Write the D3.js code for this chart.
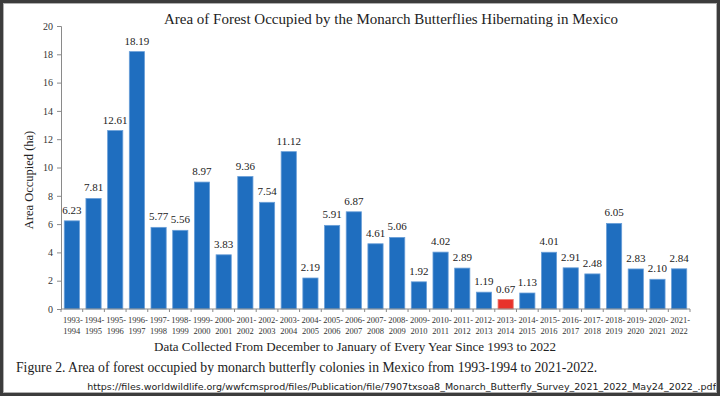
<!DOCTYPE html>
<html lang="en">
<head>
    <meta charset="utf-8" />
    <title>Monarch Butterflies</title>
    <script src="https://cdn.jsdelivr.net/npm/d3@7"></script>
    <style>
        body { margin: 0; background: #fff; }
        svg { display: block; }
    </style>
</head>
<body>
    <script>
        // seasons (two-line tick labels) and area occupied in hectares
        var startYears = ["1993", "1994", "1995", "1996", "1997", "1998", "1999", "2000", "2001", "2002",
            "2003", "2004", "2005", "2006", "2007", "2008", "2009", "2010", "2011", "2012",
            "2013", "2014", "2015", "2016", "2017", "2018", "2019", "2020", "2021"];
        var endYears = ["1994", "1995", "1996", "1997", "1998", "1999", "2000", "2001", "2002", "2003",
            "2004", "2005", "2006", "2007", "2008", "2009", "2010", "2011", "2012", "2013",
            "2014", "2015", "2016", "2017", "2018", "2019", "2020", "2021", "2022"];
        var areas = [6.23, 7.81, 12.61, 18.19, 5.77, 5.56, 8.97, 3.83, 9.36, 7.54,
            11.12, 2.19, 5.91, 6.87, 4.61, 5.06, 1.92, 4.02, 2.89, 1.19,
            0.67, 1.13, 4.01, 2.91, 2.48, 6.05, 2.83, 2.10, 2.84];
        var yTicks = [0, 2, 4, 6, 8, 10, 12, 14, 16, 18, 20];
        var lowestSeason = "2013";

        var w = 720;
        var h = 396;
        var serif = "'Liberation Serif', 'Times New Roman', serif";

        var svg = d3.select("body").append("svg")
            .attr("width", w)
            .attr("height", h);

        svg.append("rect")
            .attr("width", w)
            .attr("height", h)
            .attr("fill", "#fff");

        var plotLeft = 61, plotRight = 690, plotTop = 26, plotBottom = 309;

        var xScale = d3.scaleBand()
            .domain(startYears)
            .range([plotLeft, plotRight])
            .paddingInner(0.3)
            .paddingOuter(0.15);

        var yScale = d3.scaleLinear()
            .domain([0, 20])
            .range([plotBottom, plotTop]);

        // y axis
        var yAxis = svg.append("g")
            .attr("transform", "translate(" + plotLeft + ",0)")
            .call(d3.axisLeft(yScale).tickValues(yTicks).tickSize(4).tickPadding(4));
        yAxis.select(".domain").attr("stroke", "#8a8a8a");
        yAxis.selectAll(".tick line").attr("stroke", "#8a8a8a");
        yAxis.selectAll("text")
            .attr("font-family", serif)
            .attr("font-size", "10px")
            .attr("fill", "#333");

        // bars
        svg.selectAll("rect.bar")
            .data(areas)
            .enter()
            .append("rect")
            .attr("class", "bar")
            .attr("x", function(d, i) { return xScale(startYears[i]); })
            .attr("y", function(d) { return yScale(d); })
            .attr("width", xScale.bandwidth())
            .attr("height", function(d) { return plotBottom - yScale(d); })
            .attr("fill", function(d, i) {
                return startYears[i] === lowestSeason ? "#e8322b" : "#1f6ebf";
            })
            .attr("stroke", function(d, i) {
                return startYears[i] === lowestSeason ? "#f07a70" : "#6a9fd8";
            })
            .attr("stroke-width", 0.8);

        // value labels
        svg.selectAll("text.val")
            .data(areas)
            .enter()
            .append("text")
            .attr("class", "val")
            .text(function(d) { return d.toFixed(2); })
            .attr("x", function(d, i) { return xScale(startYears[i]) + xScale.bandwidth() / 2; })
            .attr("y", function(d) { return yScale(d) - 7; })
            .attr("text-anchor", "middle")
            .attr("font-family", serif)
            .attr("font-size", "11px")
            .attr("fill", "#222");

        // x axis, ticks sit on the band boundaries
        var step = xScale.step();
        var firstEdge = xScale(startYears[0]) - xScale.paddingInner() * step / 2;
        var xAxis = svg.append("g");
        xAxis.append("line")
            .attr("x1", plotLeft).attr("x2", plotRight)
            .attr("y1", plotBottom).attr("y2", plotBottom)
            .attr("stroke", "#8a8a8a");
        xAxis.selectAll("line.tick")
            .data(d3.range(startYears.length + 1))
            .enter()
            .append("line")
            .attr("class", "tick")
            .attr("x1", function(i) { return firstEdge + i * step; })
            .attr("x2", function(i) { return firstEdge + i * step; })
            .attr("y1", plotBottom)
            .attr("y2", plotBottom + 3)
            .attr("stroke", "#8a8a8a");

        var xLabels = xAxis.selectAll("text.xl")
            .data(startYears)
            .enter()
            .append("text")
            .attr("class", "xl")
            .attr("text-anchor", "middle")
            .attr("font-family", serif)
            .attr("font-size", "8.5px")
            .attr("fill", "#333");
        xLabels.append("tspan")
            .attr("x", function(d) { return xScale(d) + xScale.bandwidth() / 2 + 1; })
            .attr("y", plotBottom + 14)
            .text(function(d) { return d + "-"; });
        xLabels.append("tspan")
            .attr("x", function(d) { return xScale(d) + xScale.bandwidth() / 2; })
            .attr("y", plotBottom + 25)
            .text(function(d, i) { return endYears[i]; });

        // titles
        svg.append("text")
            .text("Area of Forest Occupied by the Monarch Butterflies Hibernating in Mexico")
            .attr("x", 391)
            .attr("y", 24)
            .attr("text-anchor", "middle")
            .attr("font-family", serif)
            .attr("font-size", "15px")
            .attr("fill", "#222");

        svg.append("text")
            .text("Area Occupied (ha)")
            .attr("transform", "translate(33,180) rotate(-90)")
            .attr("text-anchor", "middle")
            .attr("font-family", serif)
            .attr("font-size", "12.5px")
            .attr("fill", "#222");

        svg.append("text")
            .text("Data Collected From December to January of Every Year Since 1993 to 2022")
            .attr("x", 355)
            .attr("y", 351)
            .attr("text-anchor", "middle")
            .attr("font-family", serif)
            .attr("font-size", "13px")
            .attr("fill", "#222");

        svg.append("text")
            .text("Figure 2. Area of forest occupied by monarch butterfly colonies in Mexico from 1993-1994 to 2021-2022.")
            .attr("x", 16)
            .attr("y", 372)
            .attr("font-family", serif)
            .attr("font-size", "13.7px")
            .attr("fill", "#222");

        svg.append("text")
            .text("https://files.worldwildlife.org/wwfcmsprod/files/Publication/file/7907txsoa8_Monarch_Butterfly_Survey_2021_2022_May24_2022_.pdf")
            .attr("x", 716)
            .attr("y", 390)
            .attr("text-anchor", "end")
            .attr("font-family", "'DejaVu Sans', sans-serif")
            .attr("font-size", "9.5px")
            .attr("fill", "#222");

        // screenshot frame
        svg.append("rect")
            .attr("x", 1.5)
            .attr("y", 1.5)
            .attr("width", w - 3)
            .attr("height", h - 3)
            .attr("fill", "none")
            .attr("stroke", "#3c3c3c")
            .attr("stroke-width", 3);
        svg.append("rect")
            .attr("x", 3.5)
            .attr("y", 3.5)
            .attr("width", w - 7)
            .attr("height", h - 7)
            .attr("fill", "none")
            .attr("stroke", "#b0b0b0")
            .attr("stroke-width", 1);
    </script>
</body>
</html>
